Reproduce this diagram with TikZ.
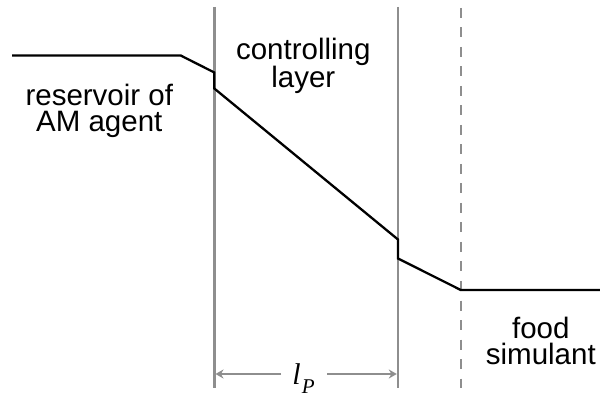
\documentclass[tikz,border=0pt]{standalone}
\usepackage{fontspec}
\setmainfont{Liberation Sans}
\newfontfamily\lpfont{Liberation Serif}
\usetikzlibrary{arrows.meta}
\definecolor{guide}{HTML}{8E8E8E}
\tikzset{
  guideline/.style={draw=guide, line width=2.4pt},
  dashguide/.style={draw=guide, line width=2.4pt, dash pattern=on 10pt off 9.5pt},
  profile/.style={draw=black, line width=2.3pt, line join=miter},
  lbl/.style={anchor=base, inner sep=0pt, align=center, font=\fontsize{29.5}{26.5}\selectfont},
  dimarrow/.style={draw=guide, line width=2pt, -{Stealth[length=8pt,width=9pt]}}
}
\begin{document}
\begin{tikzpicture}[x=1pt,y=-1pt]
\useasboundingbox (0,0) rectangle (600,398);
% guide lines
\coordinate (v1t) at (214.3,7);  \coordinate (v1b) at (214.3,388);
\coordinate (v2t) at (398,7);    \coordinate (v2b) at (398,388);
\coordinate (v3t) at (460.8,8);  \coordinate (v3b) at (460.8,388);
\draw[guideline] (v1t) -- (v1b);
\draw[guideline] (v2t) -- (v2b);
\draw[dashguide] (v3t) -- (v3b);
% concentration profile
\coordinate (p0) at (12,55.5);
\coordinate (p1) at (180.7,55.5);
\coordinate (p2) at (214.3,72.5);
\coordinate (p3) at (214.3,88.5);
\coordinate (p4) at (398,239.5);
\coordinate (p5) at (398,258.5);
\coordinate (p6) at (460.8,290);
\coordinate (p7) at (600,290);
\draw[profile] (p0) -- (p1) -- (p2) -- (p3) -- (p4) -- (p5) -- (p6) -- (p7);
% labels (anchor at baseline of the last line)
\node[lbl] (res) at (99.3,131.6) {reservoir of\\AM agent};
\node[lbl] (cl) at (303.3,87.6) {controlling\\layer};
\node[lbl] (fs) at (540.8,364.8) {food\\simulant};
% thickness dimension
\node[anchor=base, inner sep=0pt] (lp) at (303.5,384.5)
  {\lpfont\itshape\fontsize{30}{30}\selectfont l\kern1pt\raisebox{-9pt}{\fontsize{21}{21}\selectfont P}};
\coordinate (al) at (281,374);
\coordinate (ar) at (327,374);
\coordinate (ale) at (215.5,374);
\coordinate (are) at (396.8,374);
\draw[dimarrow] (al) -- (ale);
\draw[dimarrow] (ar) -- (are);
\end{tikzpicture}
\end{document}
